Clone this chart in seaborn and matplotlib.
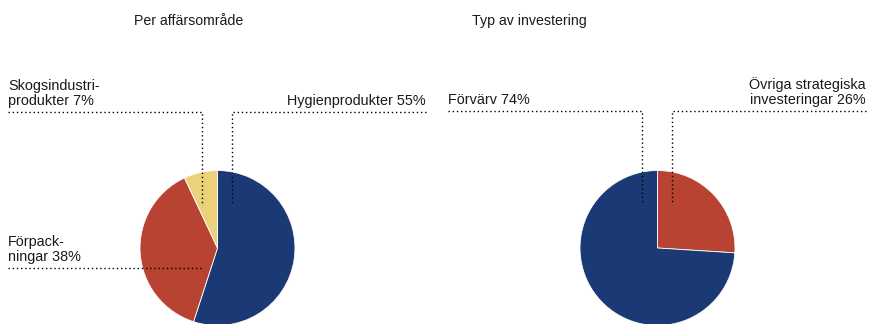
import matplotlib
matplotlib.use("Agg")
import matplotlib.pyplot as plt
from matplotlib import font_manager
import seaborn as sns

sns.set_theme(style="white")
plt.rcParams['font.family'] = ['Liberation Sans', 'DejaVu Sans']

names = sorted({f.name for f in font_manager.fontManager.ttflist})
has_narrow = "Liberation Sans Narrow" in names

# ---- data ----
left_title = "Per affärsområde"
left_categories = ["Hygienprodukter", "Förpackningar", "Skogsindustriprodukter"]
left_values = [55, 38, 7]
left_labels = ["Hygienprodukter 55%", "Förpack-\nningar 38%", "Skogsindustri-\nprodukter 7%"]

right_title = "Typ av investering"
right_categories = ["Övriga strategiska investeringar", "Förvärv"]
right_values = [26, 74]
right_labels = ["Övriga strategiska\ninvesteringar 26%", "Förvärv 74%"]

BLUE = "#1b3a75"
RED = "#b84332"
YELLOW = "#ebd27a"
left_colors = [BLUE, RED, YELLOW]
right_colors = [RED, BLUE]

W, H = 870, 324
fig = plt.figure(figsize=(W / 100, H / 100), dpi=100)
ax = fig.add_axes([0, 0, 1, 1])

def py(y):
    return H - y

R = 77.5
ax.pie(left_values, colors=left_colors, startangle=90, counterclock=False,
       center=(217.5, py(248)), radius=R,
       wedgeprops=dict(linewidth=0.6, edgecolor="white"))
ax.pie(right_values, colors=right_colors, startangle=90, counterclock=False,
       center=(657.5, py(248)), radius=R,
       wedgeprops=dict(linewidth=0.6, edgecolor="white"))

ax.set_xlim(0, W)
ax.set_ylim(0, H)
ax.set_aspect('auto')
ax.axis('off')

lk = dict(color="black", linestyle=(0, (1, 2)), linewidth=1.0)

def leader(xs, ys):
    ax.plot(xs, [py(y) for y in ys], **lk)

# left leaders
leader([8, 202, 202], [112, 112, 204])          # Skogsindustri
leader([426, 232, 232], [112, 112, 204])        # Hygien
leader([8, 202], [268, 268])                    # Förpack
# right leaders
leader([448, 642, 642], [111, 111, 203])        # Förvärv
leader([866, 672, 672], [111, 111, 203])        # Övriga

fs = 10.4
tc = "#1a1a1a"
ax.text(8, py(108), left_labels[2], ha="left", va="bottom", fontsize=fs, linespacing=1.1, color=tc)
ax.text(426, py(108), left_labels[0], ha="right", va="bottom", fontsize=fs, color=tc)
ax.text(8, py(264), left_labels[1], ha="left", va="bottom", fontsize=fs, linespacing=1.1, color=tc)
ax.text(448, py(107), right_labels[1], ha="left", va="bottom", fontsize=fs, color=tc)
ax.text(866, py(107), right_labels[0], ha="right", va="bottom", fontsize=fs, linespacing=1.1, color=tc)

if has_narrow:
    tkw = dict(fontsize=11.5, family=["Liberation Sans Narrow", "DejaVu Sans"])
else:
    tkw = dict(fontsize=10.2)
ax.text(189, py(21), left_title, ha="center", va="center", color=tc, **tkw)
ax.text(529, py(21), right_title, ha="center", va="center", color=tc, **tkw)

fig.savefig("out.png", dpi=100, facecolor="white")
